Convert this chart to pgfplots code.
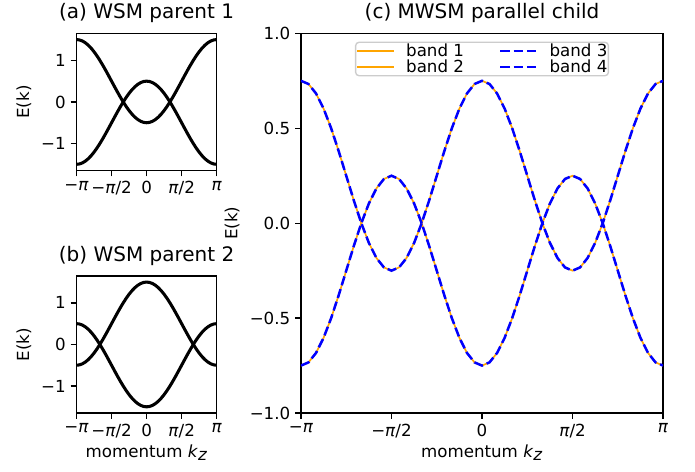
\documentclass[border=0pt]{standalone}
\usepackage{fontspec}
\setmainfont{DejaVu Sans}
\usepackage{pgfplots}
\pgfplotsset{compat=1.18}
\usepackage{pgfplotstable}

\definecolor{mplorange}{RGB}{255,165,0}
\definecolor{mplblue}{RGB}{0,0,255}

% k in degrees; a = parent 1 band, b = parent 2 band, c = child band (n = negative partner)
\pgfplotstableread{
k a an b bn c cn
-180 -1.5 1.5 -0.5 0.5 0.75 -0.75
-172.5 -1.49144 1.49144 -0.49144 0.49144 0.73296 -0.73296
-165 -1.46593 1.46593 -0.46593 0.46593 0.68301 -0.68301
-157.5 -1.42388 1.42388 -0.42388 0.42388 0.60355 -0.60355
-150 -1.36603 1.36603 -0.36603 0.36603 0.5 -0.5
-142.5 -1.29335 1.29335 -0.29335 0.29335 0.37941 -0.37941
-135 -1.20711 1.20711 -0.20711 0.20711 0.25 -0.25
-127.5 -1.10876 1.10876 -0.10876 0.10876 0.12059 -0.12059
-120 -1 1 0 0 0 0
-112.5 -0.88268 0.88268 0.11732 -0.11732 -0.10355 0.10355
-105 -0.75882 0.75882 0.24118 -0.24118 -0.18301 0.18301
-97.5 -0.63053 0.63053 0.36947 -0.36947 -0.23296 0.23296
-90 -0.5 0.5 0.5 -0.5 -0.25 0.25
-82.5 -0.36947 0.36947 0.63053 -0.63053 -0.23296 0.23296
-75 -0.24118 0.24118 0.75882 -0.75882 -0.18301 0.18301
-67.5 -0.11732 0.11732 0.88268 -0.88268 -0.10355 0.10355
-60 0 0 1 -1 0 0
-52.5 0.10876 -0.10876 1.10876 -1.10876 0.12059 -0.12059
-45 0.20711 -0.20711 1.20711 -1.20711 0.25 -0.25
-37.5 0.29335 -0.29335 1.29335 -1.29335 0.37941 -0.37941
-30 0.36603 -0.36603 1.36603 -1.36603 0.5 -0.5
-22.5 0.42388 -0.42388 1.42388 -1.42388 0.60355 -0.60355
-15 0.46593 -0.46593 1.46593 -1.46593 0.68301 -0.68301
-7.5 0.49144 -0.49144 1.49144 -1.49144 0.73296 -0.73296
0 0.5 -0.5 1.5 -1.5 0.75 -0.75
7.5 0.49144 -0.49144 1.49144 -1.49144 0.73296 -0.73296
15 0.46593 -0.46593 1.46593 -1.46593 0.68301 -0.68301
22.5 0.42388 -0.42388 1.42388 -1.42388 0.60355 -0.60355
30 0.36603 -0.36603 1.36603 -1.36603 0.5 -0.5
37.5 0.29335 -0.29335 1.29335 -1.29335 0.37941 -0.37941
45 0.20711 -0.20711 1.20711 -1.20711 0.25 -0.25
52.5 0.10876 -0.10876 1.10876 -1.10876 0.12059 -0.12059
60 0 0 1 -1 0 0
67.5 -0.11732 0.11732 0.88268 -0.88268 -0.10355 0.10355
75 -0.24118 0.24118 0.75882 -0.75882 -0.18301 0.18301
82.5 -0.36947 0.36947 0.63053 -0.63053 -0.23296 0.23296
90 -0.5 0.5 0.5 -0.5 -0.25 0.25
97.5 -0.63053 0.63053 0.36947 -0.36947 -0.23296 0.23296
105 -0.75882 0.75882 0.24118 -0.24118 -0.18301 0.18301
112.5 -0.88268 0.88268 0.11732 -0.11732 -0.10355 0.10355
120 -1 1 0 0 0 0
127.5 -1.10876 1.10876 -0.10876 0.10876 0.12059 -0.12059
135 -1.20711 1.20711 -0.20711 0.20711 0.25 -0.25
142.5 -1.29335 1.29335 -0.29335 0.29335 0.37941 -0.37941
150 -1.36603 1.36603 -0.36603 0.36603 0.5 -0.5
157.5 -1.42388 1.42388 -0.42388 0.42388 0.60355 -0.60355
165 -1.46593 1.46593 -0.46593 0.46593 0.68301 -0.68301
172.5 -1.49144 1.49144 -0.49144 0.49144 0.73296 -0.73296
180 -1.5 1.5 -0.5 0.5 0.75 -0.75
}\bandtable

\pgfplotsset{
  every axis title shift=0pt,
  mystyle/.style={
    scale only axis,
    axis line style={line width=0.96pt},
    tick align=outside,
    tick pos=left,
    major tick length=4.2pt,
    tick style={black, line width=0.96pt},
    tick label style={font=\fontsize{12}{14}\selectfont},
    label style={font=\fontsize{12}{14}\selectfont},
    title style={font=\fontsize{14.4}{17}\selectfont, at={(axis description cs:0.5,1)}, anchor=south, inner sep=0pt, yshift=7.2pt},
    xmin=-180, xmax=180,
    xtick={-180,-90,0,90,180},
    xticklabels={−\textit{π},−\textit{π}/2,0,\textit{π}/2,\textit{π}},
    ylabel={E(k)},
  },
  smallstyle/.style={
    mystyle,
    width=100.9pt, height=98.8pt,
    ymin=-1.65, ymax=1.65,
    ytick={-1,0,1},
    yticklabels={−1,0,1},
    ylabel style={at={(axis description cs:-0.375,0.5)}, anchor=center},
  },
}

\begin{document}
\begin{tikzpicture}
\useasboundingbox (0pt,0pt) rectangle (500.4pt,-339.8pt);

% (a)
\begin{axis}[smallstyle, at={(55.1pt,-24pt)}, anchor=north west,
  title={(a) WSM parent 1}]
\addplot[black, line width=2.2pt] table[x=k,y=a]{\bandtable};
\addplot[black, line width=2.2pt] table[x=k,y=an]{\bandtable};
\end{axis}

% (b)
\begin{axis}[smallstyle, at={(55.1pt,-198.6pt)}, anchor=north west,
  title={(b) WSM parent 2},
  xlabel={momentum \textit{k}$_{\textit{z}}$},
  xlabel style={at={(axis description cs:0.5,-0.289)}, anchor=center}]
\addplot[black, line width=2.2pt] table[x=k,y=b]{\bandtable};
\addplot[black, line width=2.2pt] table[x=k,y=bn]{\bandtable};
\end{axis}

% (c)
\begin{axis}[mystyle, at={(216.7pt,-24pt)}, anchor=north west,
  width=260.7pt, height=273.4pt,
  title={(c) MWSM parallel child},
  ymin=-1, ymax=1,
  ytick={-1,-0.5,0,0.5,1},
  yticklabels={−1.0,−0.5,0.0,0.5,1.0},
  ylabel style={at={(axis description cs:-0.19,0.5)}, anchor=center},
  xlabel={momentum \textit{k}$_{\textit{z}}$},
  xlabel style={at={(axis description cs:0.5,-0.1046)}, anchor=center},
  legend columns=2,
  legend cell align=left,
  legend image code/.code={\draw[#1] (0pt,0pt) -- (26pt,0pt);},
  legend style={
    at={(axis description cs:0.5,1)}, anchor=north, yshift=-6pt,
    draw=black!20, line width=0.96pt, rounded corners=2.4pt,
    fill=white, fill opacity=0.8, text opacity=1, draw opacity=1,
    inner xsep=0.7pt, inner ysep=2pt,
    font=\fontsize{12}{14}\selectfont,
    row sep=3pt,
    nodes={inner sep=0pt, text height=8.5pt, text depth=0pt},
    /tikz/every odd column/.append style={column sep=8.5pt},
    /tikz/every even column/.append style={column sep=25.3pt},
  },
]
\addplot[mplorange, line width=1.2pt, forget plot] table[x=k,y=cn]{\bandtable};
\addplot[mplorange, line width=1.2pt, forget plot] table[x=k,y=c]{\bandtable};
\addplot[mplblue, line width=1.8pt, dash pattern=on 6.66pt off 2.88pt, forget plot] table[x=k,y=cn]{\bandtable};
\addplot[mplblue, line width=1.8pt, dash pattern=on 6.66pt off 2.88pt, forget plot] table[x=k,y=c]{\bandtable};
\addlegendimage{mplorange, line width=1.2pt}
\addlegendentry{band 1}
\addlegendimage{mplblue, line width=1.8pt, dash pattern=on 6.66pt off 2.88pt}
\addlegendentry{band 3}
\addlegendimage{mplorange, line width=1.2pt}
\addlegendentry{band 2}
\addlegendimage{mplblue, line width=1.8pt, dash pattern=on 6.66pt off 2.88pt}
\addlegendentry{band 4}
\end{axis}
\end{tikzpicture}
\end{document}
